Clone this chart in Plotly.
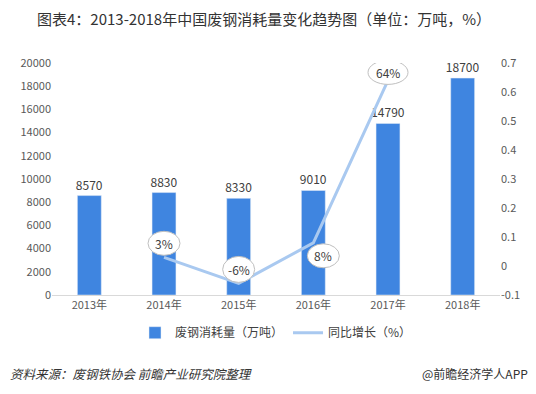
import plotly.graph_objects as go

years = ["2013年", "2014年", "2015年", "2016年", "2017年", "2018年"]
consumption = [8570, 8830, 8330, 9010, 14790, 18700]
growth_years = ["2014年", "2015年", "2016年", "2017年"]
growth = [0.03, -0.06, 0.08, 0.64]
growth_labels = ["3%", "-6%", "8%", "64%"]
right_ticks = [-0.1, 0, 0.1, 0.2, 0.3, 0.4, 0.5, 0.6, 0.7]
right_ticktext = ["-0.1", "0", "0.1", "0.2", "0.3", "0.4", "0.5", "0.6", "0.7"]

FONT = "Noto Sans CJK SC, Microsoft YaHei, sans-serif"
BAR = "#3f85e0"
LINE = "#a9c9f0"

fig = go.Figure()
fig.add_trace(go.Bar(
    x=years, y=consumption, name="废钢消耗量（万吨）",
    marker_color=BAR, text=[str(v) for v in consumption],
    textposition="outside", textfont=dict(size=12, color="#404040"),
    constraintext="none", cliponaxis=False,
))
fig.add_trace(go.Scatter(
    x=growth_years, y=growth, name="同比增长（%）", yaxis="y2",
    mode="lines", line=dict(color=LINE, width=3),
))

# ellipse labels (offsets in pixels relative to data points)
offsets = [(0, 14), (0, 14), (10, -13), (0, 8)]
sizes = [(16, 12), (16, 13), (16, 12), (20, 12)]
for gx, gy, lab, (dx, dy), (w, h) in zip(growth_years, growth, growth_labels, offsets, sizes):
    fig.add_shape(type="circle", xref="x", yref="y2",
                  xsizemode="pixel", ysizemode="pixel",
                  xanchor=gx, yanchor=gy,
                  x0=dx - w, x1=dx + w, y0=dy - h, y1=dy + h,
                  fillcolor="white", line=dict(color="#bfbfbf", width=1), layer="above")
    fig.add_annotation(x=gx, y=gy, yref="y2", text=lab, showarrow=False,
                       xshift=dx, yshift=dy, font=dict(size=12, color="#404040"))

# page body adds an 8px offset, so the figure is drawn 8px smaller and shifted
fig.update_layout(
    width=528, height=386,
    margin=dict(l=44, r=36, t=55, b=99),
    paper_bgcolor="white", plot_bgcolor="white",
    font=dict(family=FONT, color="#595959", size=11),
    bargap=0.68, showlegend=True,
    legend=dict(orientation="h", x=0.5, xanchor="center", y=-0.1, yanchor="top",
                font=dict(size=12, color="#404040")),
    xaxis=dict(showgrid=False, showline=True, linecolor="#d9d9d9", ticks="",
               tickfont=dict(size=11, color="#595959")),
    yaxis=dict(range=[0, 20000], dtick=2000, tickformat="d", showgrid=False, zeroline=False,
               tickfont=dict(size=11, color="#595959"), ticks="", ticklen=0),
    yaxis2=dict(overlaying="y", side="right", range=[-0.1, 0.7],
                tickvals=right_ticks, ticktext=right_ticktext,
                showgrid=False, zeroline=False,
                tickfont=dict(size=11, color="#595959")),
)

fig.add_annotation(xref="paper", yref="paper", x=0.5, y=1, yshift=45, yanchor="middle",
                   text="图表4：2013-2018年中国废钢消耗量变化趋势图（单位：万吨，%）",
                   showarrow=False, font=dict(size=15, color="#333333"), xanchor="center",
                   xshift=-12)
fig.add_annotation(xref="paper", yref="paper", x=0, y=0, xshift=-44, yshift=-78,
                   yanchor="middle",
                   text="<i>资料来源：废钢铁协会 前瞻产业研究院整理</i>", showarrow=False,
                   font=dict(size=12.5, color="#333333"), xanchor="left")
fig.add_annotation(xref="paper", yref="paper", x=1, y=0, xshift=30, yshift=-78,
                   yanchor="middle",
                   text="@前瞻经济学人APP", showarrow=False,
                   font=dict(size=12, color="#333333"), xanchor="right")

fig.write_html("out.html")
